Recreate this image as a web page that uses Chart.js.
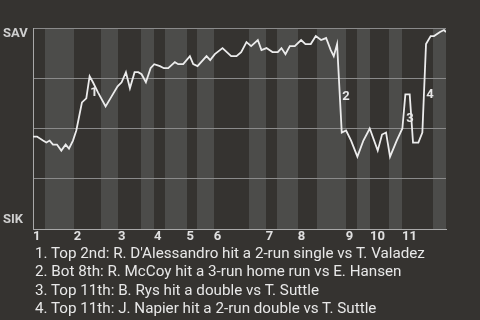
<!DOCTYPE html>
<html>
<head>
<meta charset="utf-8">
<script src="https://cdn.jsdelivr.net/npm/chart.js@4.4.1/dist/chart.umd.min.js"></script>
<style>
  html, body { margin: 0; padding: 0; background: #353330; width: 480px; height: 320px; overflow: hidden; }
  #wrap { position: absolute; left: 0; top: 0; width: 480px; height: 250px; }
  #notes { position: absolute; left: 35px; top: 244px; font-family: Roboto, sans-serif; font-size: 15.2px; line-height: 18.3px; color: #e8e8e8; white-space: nowrap; }
</style>
</head>
<body>
<div id="wrap"><canvas id="wp" width="480" height="250"></canvas></div>
<div id="notes"></div>
<script>
// x = play number through the game, y = SAV win probability
var playX = [0, 1.2, 3.0, 4.0, 5.0, 6.0, 7.2, 8.5, 9.8, 10.8,
  12.0, 13.0, 14.7, 16.0, 17.0, 18.0, 19.5, 21.8, 23.6, 25.4,
  26.6, 27.9, 29.1, 30.5, 31.6, 32.6, 33.9, 35.3, 36.4, 38.1,
  39.3, 40.6, 42.6, 43.6, 45.1, 47.1, 48.1, 49.4, 52.1, 53.2,
  54.6, 56.9, 59.5, 61.1, 62.5, 64.1, 65.5, 67.5, 68.6, 70.1,
  71.9, 73.5, 74.6, 75.8, 77.1, 78.6, 80.5, 81.8, 83.4, 84.9,
  86.5, 88.0, 89.4, 90.3, 91.3, 92.7, 94.0, 95.5, 97.4, 99.2,
  101.1, 103.5, 104.8, 106.0, 107.2, 109.2, 110.9, 111.8, 113.1, 114.1,
  115.7, 116.9, 118.0, 119.4, 120.4, 122.2, 123.4, 124.0];
var savProb = [0.46, 0.46, 0.44, 0.43, 0.44, 0.42, 0.42, 0.39, 0.42, 0.40,
  0.44, 0.49, 0.63, 0.65, 0.76, 0.73, 0.68, 0.61, 0.66, 0.71,
  0.73, 0.78, 0.70, 0.78, 0.78, 0.77, 0.73, 0.80, 0.82, 0.81,
  0.80, 0.80, 0.83, 0.82, 0.82, 0.86, 0.82, 0.81, 0.86, 0.84,
  0.87, 0.90, 0.86, 0.86, 0.88, 0.93, 0.91, 0.94, 0.89, 0.90,
  0.88, 0.88, 0.90, 0.87, 0.91, 0.91, 0.94, 0.92, 0.92, 0.96,
  0.94, 0.95, 0.89, 0.86, 0.92, 0.48, 0.49, 0.44, 0.36, 0.44,
  0.50, 0.39, 0.47, 0.48, 0.36, 0.44, 0.50, 0.67, 0.67, 0.43,
  0.43, 0.48, 0.92, 0.96, 0.96, 0.98, 0.99, 0.98];

// where each inning (top half) and each bottom half begins
var inningStart = [0, 12.2, 25.5, 36.3, 46.1, 54.3, 69.9, 79.5, 93.9, 101.2, 110.8];
var bottomStart = [3.5, 20.3, 32.4, 39.6, 49.2, 64.8, 73.2, 85.2, 97.3, 106.9, 120.1];
var inningLabels = ['1', '2', '3', '4', '5', '6', '7', '8', '9', '10', '11'];
var lastPlay = 124;

// key plays, marked on the line
var keyLabels = ['1', '2', '3', '4'];
var keyX = [18.3, 94.0, 113.2, 119.2];
var keyY = [0.68, 0.66, 0.55, 0.67];
var keyNotes = [
  "1. Top 2nd: R. D'Alessandro hit a 2-run single vs T. Valadez",
  "2. Bot 8th: R. McCoy hit a 3-run home run vs E. Hansen",
  "3. Top 11th: B. Rys hit a double vs T. Suttle",
  "4. Top 11th: J. Napier hit a 2-run double vs T. Suttle"
];

document.getElementById('notes').innerHTML = keyNotes.map(function(t) {
  return '<div>' + t.replace(/&/g, '&amp;').replace(/</g, '&lt;') + '</div>';
}).join('');

var points = playX.map(function(x, i) { return { x: x, y: savProb[i] }; });

var bandsPlugin = {
  id: 'bands',
  beforeDraw: function(chart) {
    var ctx = chart.ctx, a = chart.chartArea, xs = chart.scales.x;
    ctx.save();
    ctx.fillStyle = '#4c4c4a';
    for (var i = 0; i < bottomStart.length; i++) {
      var end = i + 1 < inningStart.length ? inningStart[i + 1] : lastPlay;
      var x0 = Math.round(xs.getPixelForValue(bottomStart[i]));
      var x1 = Math.round(xs.getPixelForValue(end));
      ctx.fillRect(x0, a.top, x1 - x0, a.bottom - a.top);
    }
    ctx.restore();
  },
  afterDatasetsDraw: function(chart) {
    var ctx = chart.ctx, xs = chart.scales.x, ys = chart.scales.y;
    ctx.save();
    ctx.font = 'bold 13px Roboto, sans-serif';
    ctx.fillStyle = '#e8e8e8';
    ctx.textAlign = 'center';
    ctx.textBaseline = 'middle';
    for (var i = 0; i < keyLabels.length; i++) {
      ctx.fillText(keyLabels[i], xs.getPixelForValue(keyX[i]), ys.getPixelForValue(keyY[i]));
    }
    ctx.restore();
  }
};

new Chart(document.getElementById('wp').getContext('2d'), {
  type: 'line',
  data: {
    datasets: [{
      data: points,
      borderColor: '#ececec',
      borderWidth: 1.8,
      pointRadius: 0,
      tension: 0,
      fill: false
    }]
  },
  options: {
    responsive: false,
    animation: false,
    layout: { padding: { left: 3, top: 28, right: 34, bottom: 0 } },
    scales: {
      x: {
        type: 'linear',
        min: 0,
        max: lastPlay,
        afterBuildTicks: function(scale) {
          scale.ticks = inningStart.map(function(v) { return { value: v }; });
        },
        afterFit: function(scale) {
          scale.height = 21;
          scale.paddingLeft = 0;
          scale.paddingRight = 0;
        },
        grid: { display: false, drawTicks: false },
        border: { display: true, color: '#a8a8a8', width: 1 },
        ticks: {
          autoSkip: false,
          maxRotation: 0,
          align: 'start',
          padding: 0,
          color: '#e0e0e0',
          font: { family: 'Roboto', size: 13, weight: 'bold' },
          callback: function(v, i) { return inningLabels[i]; }
        }
      },
      y: {
        min: 0,
        max: 1,
        afterFit: function(scale) {
          scale.width = 30;
          scale.paddingTop = 0;
          scale.paddingBottom = 0;
        },
        grid: { color: '#8a8a8a', lineWidth: 1, drawTicks: false },
        border: { display: true, color: '#a8a8a8', width: 1 },
        ticks: {
          stepSize: 0.25,
          crossAlign: 'far',
          padding: 0,
          color: '#cfcfcf',
          font: function(c) {
            var lh = c.tick && c.tick.value === 1 ? '12px' : '18px';
            return { family: 'Roboto', size: 13, weight: 'bold', lineHeight: lh };
          },
          callback: function(v) {
            if (v === 1) return ['', 'SAV'];
            if (v === 0) return ['SIK', ''];
            return '';
          }
        }
      }
    },
    plugins: {
      legend: { display: false },
      tooltip: { enabled: false }
    }
  },
  plugins: [bandsPlugin]
});
</script>
</body>
</html>
